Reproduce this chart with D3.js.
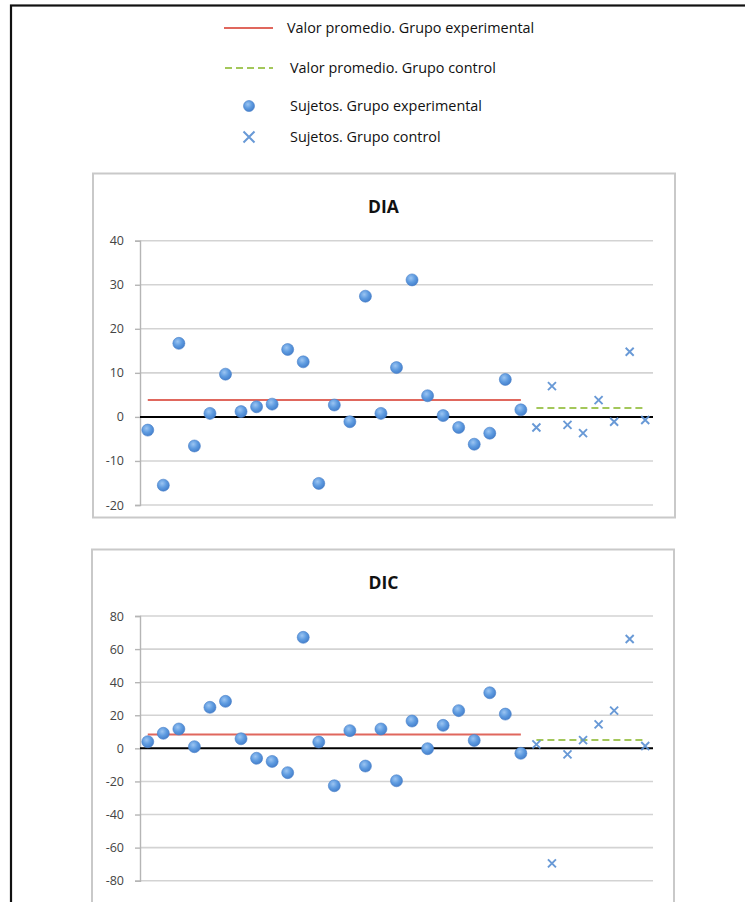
<!DOCTYPE html>
<html>
<head>
<meta charset="utf-8">
<script src="https://cdn.jsdelivr.net/npm/d3@7"></script>
<style>
  html, body { margin: 0; padding: 0; background: #fff; }
  svg { display: block; }
  text { font-family: "Open Sans", "Liberation Sans", sans-serif; }
</style>
</head>
<body>
<svg id="chart" width="745" height="902"></svg>
<script>
// ---------- data ----------
const subjects = [1,2,3,4,5,6,7,8,9,10,11,12,13,14,15,16,17,18,19,20,21,22,23,24,25,26,27,28,29,30,31,32,33];
const nExperimental = 25;

const diaExperimental = [-3, -15.5, 16.7, -6.6, 0.8, 9.7, 1.2, 2.3, 2.9, 15.3, 12.5, -15.1, 2.7, -1.1, 27.4, 0.8, 11.2, 31.1, 4.8, 0.3, -2.4, -6.2, -3.7, 8.5, 1.6];
const diaControl = [-2.4, 7.0, -1.8, -3.7, 3.8, -1.1, 14.8, -0.7];
const diaMeans = [3.85, 2.0];   // [experimental, control]
const diaTicks = [-20, -10, 0, 10, 20, 30, 40];

const dicExperimental = [4.0, 9.1, 11.7, 1.0, 24.8, 28.4, 5.8, -6.0, -7.9, -14.7, 67.1, 3.8, -22.6, 10.7, -10.7, 11.7, -19.6, 16.5, -0.2, 13.9, 22.8, 4.8, 33.6, 20.7, -3.0];
const dicControl = [2.4, -69.5, -3.6, 5.0, 14.5, 22.8, 66.1, 1.4];
const dicMeans = [8.3, 5.0];
const dicTicks = [-80, -60, -40, -20, 0, 20, 40, 60, 80];

const legendLabels = [
  "Valor promedio. Grupo experimental",
  "Valor promedio. Grupo control",
  "Sujetos. Grupo experimental",
  "Sujetos. Grupo control"
];

// ---------- styles ----------
const RED = "#e0675d";
const GREEN = "#a3c75a";
const CROSS = "#5b90d2";

const svg = d3.select("#chart");

const defs = svg.append("defs");
const grad = defs.append("radialGradient").attr("id", "dotGrad")
  .attr("cx", "40%").attr("cy", "35%").attr("r", "65%");
grad.append("stop").attr("offset", "0%").attr("stop-color", "#9cc5f2");
grad.append("stop").attr("offset", "55%").attr("stop-color", "#5e9be0");
grad.append("stop").attr("offset", "100%").attr("stop-color", "#4580cc");

// outer border
svg.append("rect").attr("x", 11).attr("y", 5.5).attr("width", 800).attr("height", 1000)
  .attr("fill", "none").attr("stroke", "#111").attr("stroke-width", 2.2);

function drawCross(g, cx, cy, h, w) {
  const a = h / 2;
  g.append("path")
    .attr("d", `M${cx - a},${cy - a}L${cx + a},${cy + a}M${cx - a},${cy + a}L${cx + a},${cy - a}`)
    .attr("stroke", CROSS).attr("stroke-width", w).attr("fill", "none").attr("stroke-opacity", 0.92);
}

// ---------- legend ----------
const legend = svg.append("g");
const legendY = [28, 68, 106, 137];
const legendTextX = [287, 290, 290, 290];
legend.append("line").attr("x1", 224).attr("x2", 273).attr("y1", legendY[0]).attr("y2", legendY[0])
  .attr("stroke", RED).attr("stroke-width", 2);
legend.append("line").attr("x1", 225).attr("x2", 273).attr("y1", legendY[1]).attr("y2", legendY[1])
  .attr("stroke", GREEN).attr("stroke-width", 2).attr("stroke-dasharray", "7,4");
legend.append("circle").attr("cx", 249).attr("cy", legendY[2]).attr("r", 5.5)
  .attr("fill", "url(#dotGrad)").attr("stroke", "#4a80c8").attr("stroke-width", 0.6);
drawCross(legend, 249, legendY[3], 11, 2);
legend.selectAll("text.leg").data(legendLabels).join("text").attr("class", "leg")
  .attr("x", (d, i) => legendTextX[i]).attr("y", (d, i) => legendY[i])
  .attr("dy", "0.35em").attr("font-size", 14.4).attr("fill", "#111").text(d => d);

// ---------- panel ----------
function panel(opts) {
  const g = svg.append("g");
  // frame
  g.append("rect").attr("x", opts.frame[0]).attr("y", opts.frame[1])
    .attr("width", opts.frame[2]).attr("height", opts.frame[3])
    .attr("fill", "#fff").attr("stroke", "#c9c9c9").attr("stroke-width", 2);

  const x = d3.scaleBand().domain(subjects).range([140, 653]);
  const cx = d => x(d) + x.bandwidth() / 2;
  const y = d3.scaleLinear().domain(opts.domain).range(opts.range);

  // title
  g.append("text").attr("x", 383.5).attr("y", opts.titleY).attr("text-anchor", "middle")
    .attr("font-size", 17.5).attr("font-weight", "bold").attr("fill", "#111").text(opts.title);

  // gridlines
  g.append("g").selectAll("line").data(opts.ticks.filter(t => t !== 0)).join("line")
    .attr("x1", 140).attr("x2", 653).attr("y1", d => y(d)).attr("y2", d => y(d))
    .attr("stroke", "#d3d3d3").attr("stroke-width", 1.6);

  // axis
  const axis = d3.axisLeft(y).tickValues(opts.ticks).tickSize(5).tickPadding(11).tickFormat(d => String(d));
  const ax = g.append("g").attr("transform", "translate(140,0)").call(axis);
  ax.select(".domain").attr("stroke", "#b5b5b5").attr("stroke-width", 1.4);
  ax.selectAll(".tick line").attr("stroke", "#b5b5b5").attr("stroke-width", 1.4);
  ax.selectAll(".tick text").attr("font-family", "'Open Sans', sans-serif")
    .attr("font-size", 12.5).attr("fill", "#444");

  // zero line
  g.append("line").attr("x1", 140).attr("x2", 653).attr("y1", y(0)).attr("y2", y(0))
    .attr("stroke", "#000").attr("stroke-width", 2);

  const expSubj = subjects.slice(0, nExperimental);
  const ctlSubj = subjects.slice(nExperimental);

  // mean lines
  g.append("line").attr("x1", cx(expSubj[0])).attr("x2", cx(expSubj[expSubj.length - 1]))
    .attr("y1", y(opts.means[0])).attr("y2", y(opts.means[0]))
    .attr("stroke", RED).attr("stroke-width", 2);
  g.append("line").attr("x1", cx(ctlSubj[0])).attr("x2", cx(ctlSubj[ctlSubj.length - 1]))
    .attr("y1", y(opts.means[1])).attr("y2", y(opts.means[1]))
    .attr("stroke", GREEN).attr("stroke-width", 2).attr("stroke-dasharray", "7,4");

  // experimental points
  g.append("g").selectAll("circle").data(opts.exp).join("circle")
    .attr("cx", (d, i) => cx(expSubj[i])).attr("cy", d => y(d)).attr("r", 6)
    .attr("fill", "url(#dotGrad)").attr("stroke", "#4a80c8").attr("stroke-width", 0.6);

  // control points
  const cg = g.append("g");
  opts.ctl.forEach((d, i) => drawCross(cg, cx(ctlSubj[i]), y(d), 8, 1.9));
}

panel({
  title: "DIA", titleY: 213, frame: [93, 173.5, 582, 344],
  domain: [-20, 40], range: [505, 240.7], ticks: diaTicks,
  exp: diaExperimental, ctl: diaControl, means: diaMeans
});

panel({
  title: "DIC", titleY: 589, frame: [92, 549.5, 582, 420],
  domain: [-80, 80], range: [880.7, 616], ticks: dicTicks,
  exp: dicExperimental, ctl: dicControl, means: dicMeans
});
</script>
</body>
</html>
